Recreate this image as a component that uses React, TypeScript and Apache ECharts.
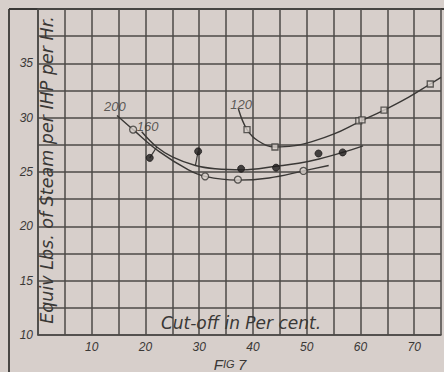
import React, { useEffect, useRef } from "react";
import * as echarts from "echarts";

// x: cut-off in per cent, y: equiv lbs of steam per IHP per hr
const curve200 = [[14.7, 30.2], [17.7, 28.9], [22.5, 26.9], [28, 25.2], [31.1, 24.6], [37, 24.25], [43, 24.45], [49.4, 25.1], [54.1, 25.6]];
const points200 = [[17.7, 28.9], [31.1, 24.6], [37.2, 24.3], [49.4, 25.1]];

const curve160 = [[19.3, 28.7], [22.1, 27.3], [25, 26.4], [29.3, 25.6], [33, 25.3], [38, 25.2], [44.6, 25.55], [48.5, 25.8], [52.3, 26.2], [56.7, 26.8], [60.5, 27.4]];
const points160 = [[20.8, 26.3], [29.8, 26.9], [37.8, 25.3], [44.3, 25.4], [52.2, 26.7], [56.7, 26.8]];
const leaders160 = [
  [[20.8, 26.3], [22.1, 27.3]],
  [[29.8, 26.9], [29.3, 25.6]],
];

const curve120 = [[37.3, 30.8], [38.9, 28.9], [41, 27.85], [44.1, 27.3], [47.5, 27.4], [51, 27.8], [55.1, 28.5], [59.7, 29.6], [64.4, 30.7], [69, 31.9], [73, 33.1], [75, 33.7]];
const points120 = [[38.9, 28.9], [44.1, 27.3], [59.7, 29.7], [60.3, 29.8], [64.4, 30.7], [73, 33.1]];

const curveLabels = [
  { name: "200", value: [14.3, 31.0] },
  { name: "160", value: [20.4, 29.2] },
  { name: "120", value: [37.8, 31.25] },
];

const xMin = 0, xMax = 75, xStep = 5;
const yMin = 10, yMax = 40, yStep = 2.5;

const yTitle = "Equiv Lbs. of Steam per IHP per Hr.";
const xTitle = "Cut-off in Per cent.";

const PAPER = "#d7cfcb";
const INK = "#3a3836";
const GRID = "#4c4a47";
const FONT = "Liberation Sans";
const TFONT = "DejaVu Sans";

export default function App() {
  const ref = useRef<HTMLDivElement>(null);
  useEffect(() => {
    document.body.style.margin = "0";
    const chart = echarts.init(ref.current!, null, { renderer: "svg" });
    const lineS = (data: number[][]) => ({
      type: "line",
      data,
      smooth: 0.4,
      showSymbol: false,
      symbol: "none",
      lineStyle: { color: INK, width: 1.4 },
      z: 3,
    });
    chart.setOption({
      animation: false,
      backgroundColor: PAPER,
      grid: { left: 38, top: 9, right: 0, bottom: 37 },
      xAxis: {
        type: "value",
        min: xMin,
        max: xMax,
        interval: xStep,
        axisLine: { show: true, lineStyle: { color: GRID, width: 1.6 } },
        axisTick: { show: false },
        splitLine: { show: true, lineStyle: { color: GRID, width: 1.5 } },
        axisLabel: {
          color: INK,
          fontFamily: FONT,
          fontStyle: "italic",
          fontSize: 12,
          margin: 6,
          formatter: (v: number) => (v % 10 === 0 && v > 0 && v < 75 ? String(v) : ""),
        },
      },
      yAxis: {
        type: "value",
        min: yMin,
        max: yMax,
        interval: yStep,
        axisLine: { show: true, lineStyle: { color: GRID, width: 1.6 } },
        axisTick: { show: false },
        splitLine: { show: true, lineStyle: { color: GRID, width: 1.5 } },
        axisLabel: {
          color: INK,
          fontFamily: FONT,
          fontStyle: "italic",
          fontSize: 12,
          margin: 5,
          formatter: (v: number) => (v % 5 === 0 && v < 40 ? String(v) : ""),
        },
      },
      graphic: [
        { type: "line", shape: { x1: 9, y1: 9, x2: 444, y2: 9 }, style: { stroke: INK, lineWidth: 1.8 } },
        { type: "line", shape: { x1: 9, y1: 9, x2: 9, y2: 372 }, style: { stroke: INK, lineWidth: 1.8 } },
        {
          type: "text",
          x: 47,
          y: 170,
          rotation: Math.PI / 2,
          style: {
            text: yTitle,
            fill: INK,
            font: `italic 17.5px "${TFONT}"`,
            align: "center",
            verticalAlign: "middle",
          },
          z: 10,
        },
        {
          type: "text",
          x: 241,
          y: 323,
          style: {
            text: xTitle,
            fill: INK,
            font: `italic 17px "${TFONT}"`,
            align: "center",
            verticalAlign: "middle",
          },
          z: 10,
        },
        {
          type: "text",
          x: 230,
          y: 364,
          style: {
            text: "{a|F}{b|IG} {a|7}",
            align: "center",
            verticalAlign: "middle",
            rich: {
              a: { fontFamily: FONT, fontStyle: "italic", fontSize: 15, fill: INK, color: INK },
              b: { fontFamily: FONT, fontStyle: "italic", fontSize: 11, fill: INK, color: INK },
            },
          },
        },
      ],
      series: [
        lineS(curve200),
        lineS(curve160),
        lineS(curve120),
        ...leaders160.map((seg) => ({
          type: "line",
          data: seg,
          symbol: "none",
          lineStyle: { color: INK, width: 1.2 },
          z: 3,
        })),
        {
          type: "scatter",
          data: points200,
          symbol: "circle",
          symbolSize: 7,
          itemStyle: { color: PAPER, borderColor: INK, borderWidth: 1.3 },
          z: 5,
        },
        {
          type: "scatter",
          data: points160,
          symbol: "circle",
          symbolSize: 7,
          itemStyle: { color: "#1e1c1b", borderColor: "#1e1c1b", borderWidth: 1 },
          z: 5,
        },
        {
          type: "scatter",
          data: points120,
          symbol: "rect",
          symbolSize: 6,
          itemStyle: { color: PAPER, borderColor: INK, borderWidth: 1.3 },
          z: 5,
        },
        {
          type: "scatter",
          data: curveLabels,
          symbolSize: 0,
          label: {
            show: true,
            position: "inside",
            formatter: (p: any) => p.name,
            color: INK,
            fontFamily: FONT,
            fontStyle: "italic",
            fontSize: 13,
          },
          z: 6,
        },
      ],
    });
    return () => chart.dispose();
  }, []);
  return <div ref={ref} style={{ width: 444, height: 372 }} />;
}
